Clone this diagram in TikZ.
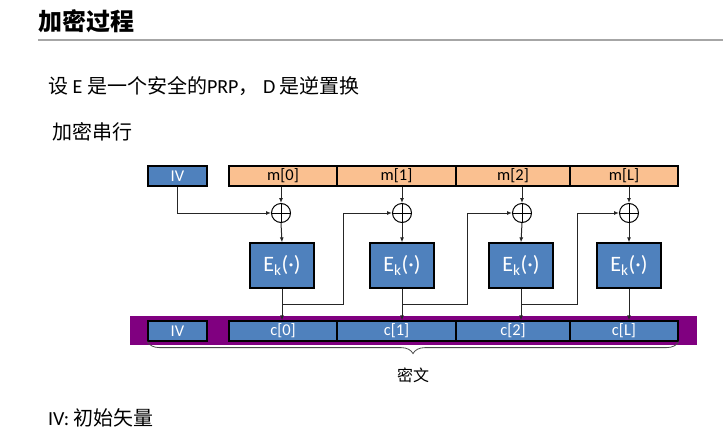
\documentclass[tikz,border=0pt]{standalone}
\usepackage{fontspec}
\setmainfont{Carlito}
\newfontfamily\cjk{Noto Sans CJK SC}
\usetikzlibrary{arrows.meta,decorations.pathreplacing}

\definecolor{boxblue}{HTML}{4F81BD}
\definecolor{boxorange}{HTML}{FAC090}
\definecolor{bandpurple}{HTML}{800080}

\begin{document}
\begin{tikzpicture}[x=1pt, y=-1pt,
                    textnode/.style={anchor=west, inner sep=0pt, font=\fontsize{20}{24}\selectfont},
                    bluenode/.style={rectangle, draw=black, line width=1.2pt, fill=boxblue, text=white, minimum height=20pt, inner sep=0pt, font=\fontsize{16.5}{18}\selectfont},
                    orangenode/.style={bluenode, fill=boxorange, text=black},
                    encnode/.style={bluenode, minimum width=64pt, minimum height=45pt, font=\fontsize{22}{24}\selectfont},
                    xornode/.style={circle, draw=black, line width=1pt, minimum size=19pt, inner sep=0pt,
                                    path picture={\draw[line width=1pt] (path picture bounding box.north) -- (path picture bounding box.south)
                                                  (path picture bounding box.west) -- (path picture bounding box.east);}},
                    link/.style={line width=1pt, black!85, -{Latex[length=5pt,width=4pt]}}]
                    \useasboundingbox (0,0) rectangle (723,442);

                    % heading and text
                    \node[textnode, font=\cjk\bfseries\fontsize{24}{28}\selectfont] (title) at (38,21) {加密过程};
                    \draw[line width=2pt, black!35] (38,40) -- (723,40);
                    \node[textnode] (premise) at (48,86) {{\cjk 设} E {\cjk 是一个安全的}PRP{\cjk ，} D {\cjk 是逆置换}};
                    \node[textnode] (mode) at (52,132) {{\cjk 加密串行}};
                    \node[textnode] (note) at (48,418) {IV: {\cjk 初始矢量}};

                    % plaintext row
                    \node[bluenode, minimum width=59pt] (iv-0) at (177.5,176) {IV};
                    \node[orangenode, minimum width=108pt] (m-0) at (283,176) {m[0]};
                    \node[orangenode, minimum width=119pt] (m-1) at (396.5,176) {m[1]};
                    \node[orangenode, minimum width=114pt] (m-2) at (513,176) {m[2]};
                    \node[orangenode, minimum width=108pt] (m-3) at (624,176) {m[L]};

                    % xor and block cipher
                    \node[xornode] (x-0) at (281,213) {};
                    \node[xornode] (x-1) at (402,213) {};
                    \node[xornode] (x-2) at (522,213) {};
                    \node[xornode] (x-3) at (629,213) {};
                    \node[encnode] (e-0) at (282,265.5) {E\textsubscript{k}(·)};
                    \node[encnode] (e-1) at (402,265.5) {E\textsubscript{k}(·)};
                    \node[encnode] (e-2) at (521,265.5) {E\textsubscript{k}(·)};
                    \node[encnode] (e-3) at (629,265.5) {E\textsubscript{k}(·)};

                    % ciphertext row
                    \node[rectangle, fill=bandpurple, minimum width=567pt, minimum height=29pt, inner sep=0pt] (band) at (413.5,330.5) {};
                    \node[bluenode, minimum width=59pt] (iv-1) at (177.5,331) {IV};
                    \node[bluenode, minimum width=108pt] (c-0) at (283,331) {c[0]};
                    \node[bluenode, minimum width=119pt] (c-1) at (396.5,331) {c[1]};
                    \node[bluenode, minimum width=114pt] (c-2) at (513,331) {c[2]};
                    \node[bluenode, minimum width=108pt] (c-3) at (624,331) {c[L]};

                    \coordinate (f-1) at (343,304);
                    \coordinate (f-2) at (467,304);
                    \coordinate (f-3) at (577,304);

                    \draw[link] (iv-0.south) |- (x-0.west);
                    \draw[link] (x-0 |- m-0.south) -- (x-0.north);
                    \draw[link] (x-1 |- m-1.south) -- (x-1.north);
                    \draw[link] (x-2 |- m-2.south) -- (x-2.north);
                    \draw[link] (x-3 |- m-3.south) -- (x-3.north);
                    \draw[link] (x-0.south) -- (e-0.north);
                    \draw[link] (x-1.south) -- (e-1.north);
                    \draw[link] (x-2.south) -- (e-2.north);
                    \draw[link] (x-3.south) -- (e-3.north);
                    \draw[link] (e-0.south) -- (e-0.south |- c-0.north);
                    \draw[link] (e-1.south) -- (e-1.south |- c-1.north);
                    \draw[link] (e-2.south) -- (e-2.south |- c-2.north);
                    \draw[link] (e-3.south) -- (e-3.south |- c-3.north);
                    \draw[link] (e-0.south |- f-1) -- (f-1) |- (x-1.west);
                    \draw[link] (e-1.south |- f-2) -- (f-2) |- (x-2.west);
                    \draw[link] (e-2.south |- f-3) -- (f-3) |- (x-3.west);

                    \draw[decorate, decoration={brace, mirror, amplitude=12pt}, line width=0.8pt, black!70] (iv-1.south west) -- (c-3.south east);
                    \node[font=\cjk\fontsize{16}{18}\selectfont] (cipher) at (413,375) {密文};
\end{tikzpicture}
\end{document}
